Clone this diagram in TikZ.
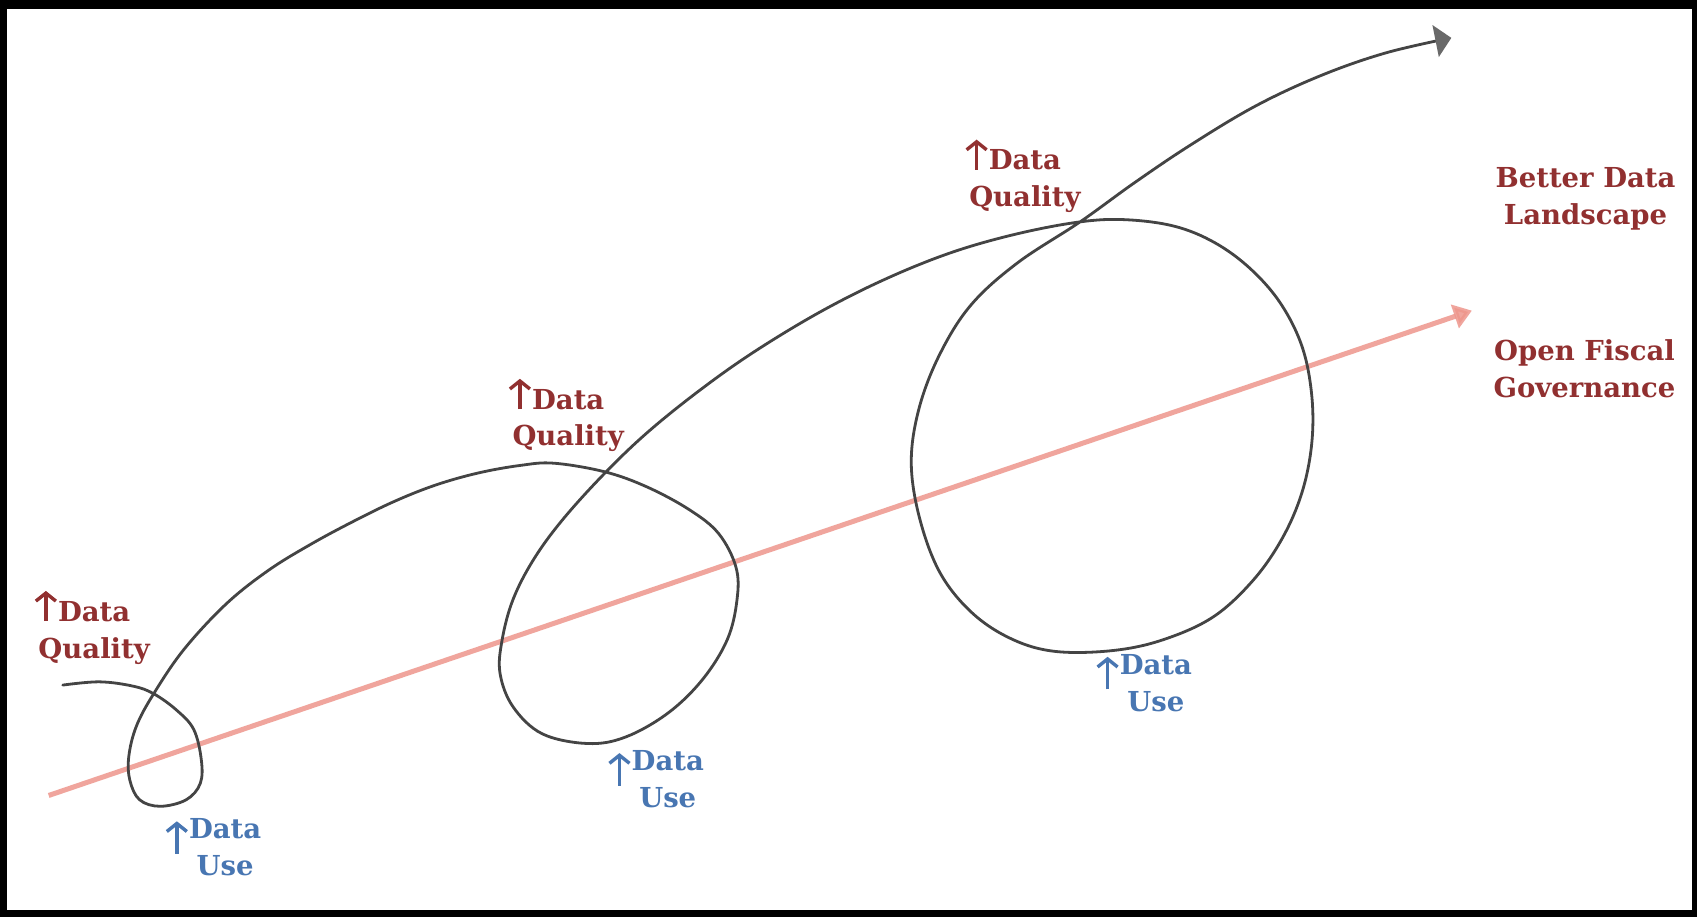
\documentclass[tikz,border=0pt]{standalone}
\usepackage{fontspec}
\newfontfamily\lblfont{DejaVu Serif}
\usetikzlibrary{arrows.meta}
\definecolor{qred}{RGB}{145,48,48}
\definecolor{ublue}{RGB}{72,118,178}
\definecolor{curvegray}{RGB}{68,68,68}
\definecolor{tipgray}{RGB}{105,105,105}
\definecolor{pinkline}{RGB}{238,150,140}
\tikzset{
  lbl/.style={font=\lblfont\bfseries\fontsize{27.5}{34}\selectfont, inner sep=0pt, anchor=base},
  qtext/.style={lbl, text=qred},
  utext/.style={lbl, text=ublue},
  qarrow/.style={draw=qred, line width=3.4pt, -{Straight Barb[length=8pt,width=20pt]}},
  uarrow/.style={draw=ublue, line width=3.4pt, -{Straight Barb[length=8pt,width=20pt]}},
  spiral/.style={draw=curvegray, line width=2.8pt, line cap=round, line join=round,
    -{Triangle[length=16pt,width=32pt,color=tipgray]}},
  trend/.style={draw=pinkline, line width=5pt, opacity=0.85,
    -{Triangle[length=18pt,width=24pt]}}
}
\begin{document}
\begin{tikzpicture}[x=1.0823pt,y=-1.0823pt]
\useasboundingbox (0,0) rectangle (1568,847.27);
\fill[black] (0,0) rectangle (1568,847.27);
\fill[white] (6.5,8.3) rectangle (1563.3,840.8);

% trend line
\coordinate (ps) at (45,735);
\coordinate (pe) at (1360,287);
\draw[trend] (ps) -- (pe);

% spiral
\draw[spiral] plot[smooth, tension=0.6] coordinates {
(58,633) (92,630) (123,634) (142,641) (163,656) (179,674) (186,702) (185,724)
(172,739) (148,745) (129,739) (120,721) (119,699) (126,671) (142,641) (170,600)
(209,558) (248,527) (287,503) (326,482) (365,463) (403,448) (442,437) (481,430)
(512,428) (559,436) (598,450) (637,471) (664,493) (680,524) (681,554) (672,591)
(649,628) (617,659) (578,681) (543,687) (501,678) (474,653) (462,622) (464,591)
(474,554) (493,517) (520,480) (559,437) (600,398) (650,358) (700,323) (760,287)
(820,257) (880,233) (940,216) (998,205) (1040,203) (1085,209) (1122,224) (1155,248)
(1183,280) (1203,320) (1212,365) (1212,410) (1203,455) (1185,497) (1158,536) (1121,570)
(1075,591) (1029,601) (976,602) (936,591) (899,567) (869,530) (850,480) (842,428)
(849,378) (868,328) (897,282) (940,243) (998,205) (1048,169) (1100,134) (1160,98)
(1220,70) (1280,49) (1341,35)};

% Data Quality labels
\node[qtext] (q1a) at (87,574) {Data};
\node[qtext] (q1b) at (87,608) {Quality};
\node[qtext] (q2a) at (525,378) {Data};
\node[qtext] (q2b) at (525,412) {Quality};
\node[qtext] (q3a) at (947,157) {Data};
\node[qtext] (q3b) at (947,191) {Quality};
\draw[qarrow] ([xshift=-12pt]q1a.base west) -- ++(0,-28);
\draw[qarrow] ([xshift=-12pt]q2a.base west) -- ++(0,-28);
\draw[qarrow] ([xshift=-12pt]q3a.base west) -- ++(0,-28);

% Data Use labels
\node[utext] (u1a) at (208,775) {Data};
\node[utext] (u1b) at (208,809) {Use};
\node[utext] (u2a) at (617,712) {Data};
\node[utext] (u2b) at (617,746) {Use};
\node[utext] (u3a) at (1068,623) {Data};
\node[utext] (u3b) at (1068,657) {Use};
\draw[uarrow] ([xshift=-12pt,yshift=-15pt]u1a.base west) -- ++(0,-30);
\draw[uarrow] ([xshift=-12pt,yshift=-15pt]u2a.base west) -- ++(0,-30);
\draw[uarrow] ([xshift=-12pt,yshift=-15pt]u3a.base west) -- ++(0,-30);

% right labels
\node[qtext] (bd1) at (1465,173) {Better Data};
\node[qtext] (bd2) at (1465,207) {Landscape};
\node[qtext] (of1) at (1464,333) {Open Fiscal};
\node[qtext] (of2) at (1464,367) {Governance};
\end{tikzpicture}
\end{document}
